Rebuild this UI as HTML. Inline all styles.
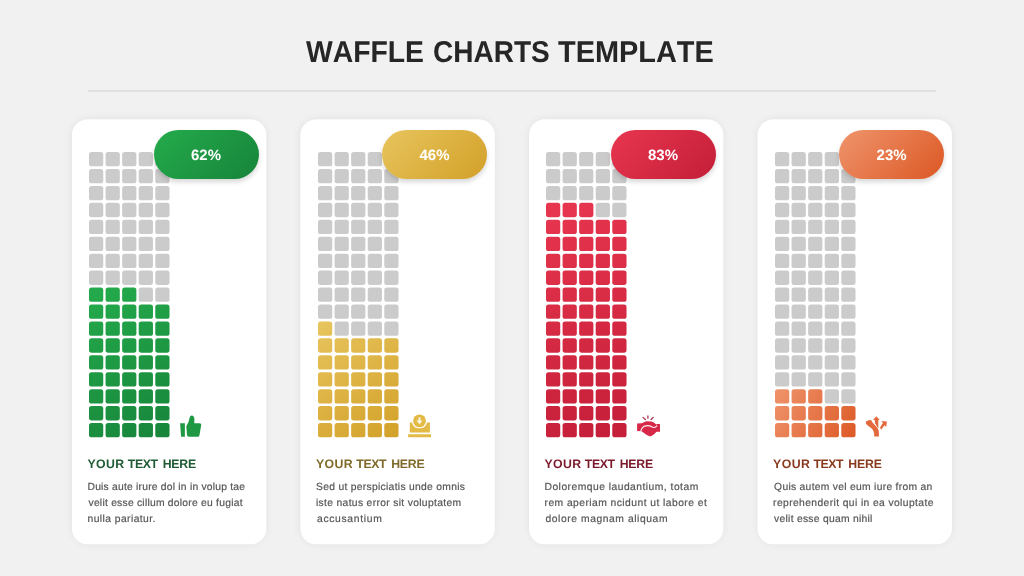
<!DOCTYPE html><html><head><meta charset="utf-8"><title>Waffle Charts Template</title><style>
*{margin:0;padding:0;box-sizing:border-box}
html,body{text-rendering:geometricPrecision;width:1024px;height:576px;overflow:hidden;background:#f1f1f1;font-family:"Liberation Sans",sans-serif}
.tw{position:absolute;top:34.6px;font-kerning:none;text-rendering:geometricPrecision;font-weight:bold;font-size:30px;line-height:36px;color:#262626;white-space:nowrap;transform-origin:0 0}
#stage{position:absolute;left:0;top:0;width:1024px;height:576px;will-change:transform}
.rule{position:absolute;left:87.5px;top:90px;width:848.5px;height:2px;background:#e0e0e0}
.card{position:absolute;top:119.3px;width:194.3px;height:424.5px;border-radius:17px}
.shadow{position:absolute;top:119px;width:194px;height:425px;border-radius:17px;box-shadow:0 0 8px rgba(0,0,0,.07)}
.bg{position:absolute;left:0;top:0;width:1024px;height:576px}
.pill{position:absolute;left:81.5px;top:10.5px;padding-right:.2px;width:105.2px;height:49.1px;border-radius:25px;color:#fff;font-weight:bold;font-size:15px;line-height:52px;text-align:center;box-shadow:0 3px 5px rgba(0,0,0,.16)}
.grid{position:absolute;left:17.0px;top:33.000000000000014px;width:82.85px;height:287.98px}
.hw{position:absolute;top:337.7px;font-weight:bold;font-size:12.3px;line-height:14px;white-space:nowrap}
.ln{position:absolute;font-size:10.3px;line-height:16px;color:#555;-webkit-text-stroke:.18px #555;white-space:nowrap}
.icons{position:absolute;left:0;top:0;width:1024px;height:576px}
</style></head><body><div id="stage">
<div class="tw" style="left:305.70px;transform:scaleX(0.9444)">WAFFLE</div>
<div class="tw" style="left:432.57px;transform:scaleX(0.9333)">CHARTS</div>
<div class="tw" style="left:557.60px;transform:scaleX(0.9634)">TEMPLATE</div>
<div class="rule"></div>
<div class="shadow" style="left:72px"></div>
<div class="shadow" style="left:300px"></div>
<div class="shadow" style="left:529px"></div>
<div class="shadow" style="left:758px"></div>
<svg class="bg" viewBox="0 0 1024 576"><rect x="72.0" y="119.4" width="194.3" height="424.9" rx="15.5" fill="#fff"/><rect x="300.5" y="119.4" width="194.3" height="424.9" rx="15.5" fill="#fff"/><rect x="529.0" y="119.4" width="194.3" height="424.9" rx="15.5" fill="#fff"/><rect x="757.6" y="119.4" width="194.3" height="424.9" rx="15.5" fill="#fff"/></svg>
<div class="card" style="left:72.0px">
<svg class="grid" viewBox="0 0 82.85 287.98"><defs><linearGradient id="gr_g" gradientUnits="userSpaceOnUse" x1="0" y1="135.5" x2="82.8" y2="288.0"><stop offset="0" stop-color="#24ab4c"/><stop offset="1" stop-color="#17843a"/></linearGradient></defs><rect x="0.00" y="0.00" width="14.25" height="14.35" rx="2.6" fill="#cbcbcb"/><rect x="16.57" y="0.00" width="14.25" height="14.35" rx="2.6" fill="#cbcbcb"/><rect x="33.14" y="0.00" width="14.25" height="14.35" rx="2.6" fill="#cbcbcb"/><rect x="49.71" y="0.00" width="14.25" height="14.35" rx="2.6" fill="#cbcbcb"/><rect x="66.28" y="0.00" width="14.25" height="14.35" rx="2.6" fill="#cbcbcb"/><rect x="0.00" y="16.94" width="14.25" height="14.35" rx="2.6" fill="#cbcbcb"/><rect x="16.57" y="16.94" width="14.25" height="14.35" rx="2.6" fill="#cbcbcb"/><rect x="33.14" y="16.94" width="14.25" height="14.35" rx="2.6" fill="#cbcbcb"/><rect x="49.71" y="16.94" width="14.25" height="14.35" rx="2.6" fill="#cbcbcb"/><rect x="66.28" y="16.94" width="14.25" height="14.35" rx="2.6" fill="#cbcbcb"/><rect x="0.00" y="33.88" width="14.25" height="14.35" rx="2.6" fill="#cbcbcb"/><rect x="16.57" y="33.88" width="14.25" height="14.35" rx="2.6" fill="#cbcbcb"/><rect x="33.14" y="33.88" width="14.25" height="14.35" rx="2.6" fill="#cbcbcb"/><rect x="49.71" y="33.88" width="14.25" height="14.35" rx="2.6" fill="#cbcbcb"/><rect x="66.28" y="33.88" width="14.25" height="14.35" rx="2.6" fill="#cbcbcb"/><rect x="0.00" y="50.82" width="14.25" height="14.35" rx="2.6" fill="#cbcbcb"/><rect x="16.57" y="50.82" width="14.25" height="14.35" rx="2.6" fill="#cbcbcb"/><rect x="33.14" y="50.82" width="14.25" height="14.35" rx="2.6" fill="#cbcbcb"/><rect x="49.71" y="50.82" width="14.25" height="14.35" rx="2.6" fill="#cbcbcb"/><rect x="66.28" y="50.82" width="14.25" height="14.35" rx="2.6" fill="#cbcbcb"/><rect x="0.00" y="67.76" width="14.25" height="14.35" rx="2.6" fill="#cbcbcb"/><rect x="16.57" y="67.76" width="14.25" height="14.35" rx="2.6" fill="#cbcbcb"/><rect x="33.14" y="67.76" width="14.25" height="14.35" rx="2.6" fill="#cbcbcb"/><rect x="49.71" y="67.76" width="14.25" height="14.35" rx="2.6" fill="#cbcbcb"/><rect x="66.28" y="67.76" width="14.25" height="14.35" rx="2.6" fill="#cbcbcb"/><rect x="0.00" y="84.70" width="14.25" height="14.35" rx="2.6" fill="#cbcbcb"/><rect x="16.57" y="84.70" width="14.25" height="14.35" rx="2.6" fill="#cbcbcb"/><rect x="33.14" y="84.70" width="14.25" height="14.35" rx="2.6" fill="#cbcbcb"/><rect x="49.71" y="84.70" width="14.25" height="14.35" rx="2.6" fill="#cbcbcb"/><rect x="66.28" y="84.70" width="14.25" height="14.35" rx="2.6" fill="#cbcbcb"/><rect x="0.00" y="101.64" width="14.25" height="14.35" rx="2.6" fill="#cbcbcb"/><rect x="16.57" y="101.64" width="14.25" height="14.35" rx="2.6" fill="#cbcbcb"/><rect x="33.14" y="101.64" width="14.25" height="14.35" rx="2.6" fill="#cbcbcb"/><rect x="49.71" y="101.64" width="14.25" height="14.35" rx="2.6" fill="#cbcbcb"/><rect x="66.28" y="101.64" width="14.25" height="14.35" rx="2.6" fill="#cbcbcb"/><rect x="0.00" y="118.58" width="14.25" height="14.35" rx="2.6" fill="#cbcbcb"/><rect x="16.57" y="118.58" width="14.25" height="14.35" rx="2.6" fill="#cbcbcb"/><rect x="33.14" y="118.58" width="14.25" height="14.35" rx="2.6" fill="#cbcbcb"/><rect x="49.71" y="118.58" width="14.25" height="14.35" rx="2.6" fill="#cbcbcb"/><rect x="66.28" y="118.58" width="14.25" height="14.35" rx="2.6" fill="#cbcbcb"/><rect x="0.00" y="135.52" width="14.25" height="14.35" rx="2.6" fill="url(#gr_g)"/><rect x="16.57" y="135.52" width="14.25" height="14.35" rx="2.6" fill="url(#gr_g)"/><rect x="33.14" y="135.52" width="14.25" height="14.35" rx="2.6" fill="url(#gr_g)"/><rect x="49.71" y="135.52" width="14.25" height="14.35" rx="2.6" fill="#cbcbcb"/><rect x="66.28" y="135.52" width="14.25" height="14.35" rx="2.6" fill="#cbcbcb"/><rect x="0.00" y="152.46" width="14.25" height="14.35" rx="2.6" fill="url(#gr_g)"/><rect x="16.57" y="152.46" width="14.25" height="14.35" rx="2.6" fill="url(#gr_g)"/><rect x="33.14" y="152.46" width="14.25" height="14.35" rx="2.6" fill="url(#gr_g)"/><rect x="49.71" y="152.46" width="14.25" height="14.35" rx="2.6" fill="url(#gr_g)"/><rect x="66.28" y="152.46" width="14.25" height="14.35" rx="2.6" fill="url(#gr_g)"/><rect x="0.00" y="169.40" width="14.25" height="14.35" rx="2.6" fill="url(#gr_g)"/><rect x="16.57" y="169.40" width="14.25" height="14.35" rx="2.6" fill="url(#gr_g)"/><rect x="33.14" y="169.40" width="14.25" height="14.35" rx="2.6" fill="url(#gr_g)"/><rect x="49.71" y="169.40" width="14.25" height="14.35" rx="2.6" fill="url(#gr_g)"/><rect x="66.28" y="169.40" width="14.25" height="14.35" rx="2.6" fill="url(#gr_g)"/><rect x="0.00" y="186.34" width="14.25" height="14.35" rx="2.6" fill="url(#gr_g)"/><rect x="16.57" y="186.34" width="14.25" height="14.35" rx="2.6" fill="url(#gr_g)"/><rect x="33.14" y="186.34" width="14.25" height="14.35" rx="2.6" fill="url(#gr_g)"/><rect x="49.71" y="186.34" width="14.25" height="14.35" rx="2.6" fill="url(#gr_g)"/><rect x="66.28" y="186.34" width="14.25" height="14.35" rx="2.6" fill="url(#gr_g)"/><rect x="0.00" y="203.28" width="14.25" height="14.35" rx="2.6" fill="url(#gr_g)"/><rect x="16.57" y="203.28" width="14.25" height="14.35" rx="2.6" fill="url(#gr_g)"/><rect x="33.14" y="203.28" width="14.25" height="14.35" rx="2.6" fill="url(#gr_g)"/><rect x="49.71" y="203.28" width="14.25" height="14.35" rx="2.6" fill="url(#gr_g)"/><rect x="66.28" y="203.28" width="14.25" height="14.35" rx="2.6" fill="url(#gr_g)"/><rect x="0.00" y="220.22" width="14.25" height="14.35" rx="2.6" fill="url(#gr_g)"/><rect x="16.57" y="220.22" width="14.25" height="14.35" rx="2.6" fill="url(#gr_g)"/><rect x="33.14" y="220.22" width="14.25" height="14.35" rx="2.6" fill="url(#gr_g)"/><rect x="49.71" y="220.22" width="14.25" height="14.35" rx="2.6" fill="url(#gr_g)"/><rect x="66.28" y="220.22" width="14.25" height="14.35" rx="2.6" fill="url(#gr_g)"/><rect x="0.00" y="237.16" width="14.25" height="14.35" rx="2.6" fill="url(#gr_g)"/><rect x="16.57" y="237.16" width="14.25" height="14.35" rx="2.6" fill="url(#gr_g)"/><rect x="33.14" y="237.16" width="14.25" height="14.35" rx="2.6" fill="url(#gr_g)"/><rect x="49.71" y="237.16" width="14.25" height="14.35" rx="2.6" fill="url(#gr_g)"/><rect x="66.28" y="237.16" width="14.25" height="14.35" rx="2.6" fill="url(#gr_g)"/><rect x="0.00" y="254.10" width="14.25" height="14.35" rx="2.6" fill="url(#gr_g)"/><rect x="16.57" y="254.10" width="14.25" height="14.35" rx="2.6" fill="url(#gr_g)"/><rect x="33.14" y="254.10" width="14.25" height="14.35" rx="2.6" fill="url(#gr_g)"/><rect x="49.71" y="254.10" width="14.25" height="14.35" rx="2.6" fill="url(#gr_g)"/><rect x="66.28" y="254.10" width="14.25" height="14.35" rx="2.6" fill="url(#gr_g)"/><rect x="0.00" y="271.04" width="14.25" height="14.35" rx="2.6" fill="url(#gr_g)"/><rect x="16.57" y="271.04" width="14.25" height="14.35" rx="2.6" fill="url(#gr_g)"/><rect x="33.14" y="271.04" width="14.25" height="14.35" rx="2.6" fill="url(#gr_g)"/><rect x="49.71" y="271.04" width="14.25" height="14.35" rx="2.6" fill="url(#gr_g)"/><rect x="66.28" y="271.04" width="14.25" height="14.35" rx="2.6" fill="url(#gr_g)"/></svg>
<div class="pill" style="background:linear-gradient(135deg,#24ab4c,#17843a)">62%</div>
<div class="hw" style="left:15.50px;letter-spacing:0.400px;color:#1f5a33">YOUR</div>
<div class="hw" style="left:55.80px;letter-spacing:-0.433px;color:#1f5a33">TEXT</div>
<div class="hw" style="left:90.70px;letter-spacing:-0.200px;color:#1f5a33">HERE</div>
<div class="ln" style="left:15.50px;top:360.70px;letter-spacing:0.221px">Duis aute irure dol in in volup tae</div>
<div class="ln" style="left:16.50px;top:376.70px;letter-spacing:0.245px">velit esse cillum dolore eu fugiat</div>
<div class="ln" style="left:15.50px;top:392.90px;letter-spacing:0.436px">nulla pariatur.</div>
</div>
<div class="card" style="left:300.5px">
<svg class="grid" viewBox="0 0 82.85 287.98"><defs><linearGradient id="gr_y" gradientUnits="userSpaceOnUse" x1="0" y1="169.4" x2="82.8" y2="288.0"><stop offset="0" stop-color="#e8c55e"/><stop offset="1" stop-color="#d2a028"/></linearGradient></defs><rect x="0.00" y="0.00" width="14.25" height="14.35" rx="2.6" fill="#cbcbcb"/><rect x="16.57" y="0.00" width="14.25" height="14.35" rx="2.6" fill="#cbcbcb"/><rect x="33.14" y="0.00" width="14.25" height="14.35" rx="2.6" fill="#cbcbcb"/><rect x="49.71" y="0.00" width="14.25" height="14.35" rx="2.6" fill="#cbcbcb"/><rect x="66.28" y="0.00" width="14.25" height="14.35" rx="2.6" fill="#cbcbcb"/><rect x="0.00" y="16.94" width="14.25" height="14.35" rx="2.6" fill="#cbcbcb"/><rect x="16.57" y="16.94" width="14.25" height="14.35" rx="2.6" fill="#cbcbcb"/><rect x="33.14" y="16.94" width="14.25" height="14.35" rx="2.6" fill="#cbcbcb"/><rect x="49.71" y="16.94" width="14.25" height="14.35" rx="2.6" fill="#cbcbcb"/><rect x="66.28" y="16.94" width="14.25" height="14.35" rx="2.6" fill="#cbcbcb"/><rect x="0.00" y="33.88" width="14.25" height="14.35" rx="2.6" fill="#cbcbcb"/><rect x="16.57" y="33.88" width="14.25" height="14.35" rx="2.6" fill="#cbcbcb"/><rect x="33.14" y="33.88" width="14.25" height="14.35" rx="2.6" fill="#cbcbcb"/><rect x="49.71" y="33.88" width="14.25" height="14.35" rx="2.6" fill="#cbcbcb"/><rect x="66.28" y="33.88" width="14.25" height="14.35" rx="2.6" fill="#cbcbcb"/><rect x="0.00" y="50.82" width="14.25" height="14.35" rx="2.6" fill="#cbcbcb"/><rect x="16.57" y="50.82" width="14.25" height="14.35" rx="2.6" fill="#cbcbcb"/><rect x="33.14" y="50.82" width="14.25" height="14.35" rx="2.6" fill="#cbcbcb"/><rect x="49.71" y="50.82" width="14.25" height="14.35" rx="2.6" fill="#cbcbcb"/><rect x="66.28" y="50.82" width="14.25" height="14.35" rx="2.6" fill="#cbcbcb"/><rect x="0.00" y="67.76" width="14.25" height="14.35" rx="2.6" fill="#cbcbcb"/><rect x="16.57" y="67.76" width="14.25" height="14.35" rx="2.6" fill="#cbcbcb"/><rect x="33.14" y="67.76" width="14.25" height="14.35" rx="2.6" fill="#cbcbcb"/><rect x="49.71" y="67.76" width="14.25" height="14.35" rx="2.6" fill="#cbcbcb"/><rect x="66.28" y="67.76" width="14.25" height="14.35" rx="2.6" fill="#cbcbcb"/><rect x="0.00" y="84.70" width="14.25" height="14.35" rx="2.6" fill="#cbcbcb"/><rect x="16.57" y="84.70" width="14.25" height="14.35" rx="2.6" fill="#cbcbcb"/><rect x="33.14" y="84.70" width="14.25" height="14.35" rx="2.6" fill="#cbcbcb"/><rect x="49.71" y="84.70" width="14.25" height="14.35" rx="2.6" fill="#cbcbcb"/><rect x="66.28" y="84.70" width="14.25" height="14.35" rx="2.6" fill="#cbcbcb"/><rect x="0.00" y="101.64" width="14.25" height="14.35" rx="2.6" fill="#cbcbcb"/><rect x="16.57" y="101.64" width="14.25" height="14.35" rx="2.6" fill="#cbcbcb"/><rect x="33.14" y="101.64" width="14.25" height="14.35" rx="2.6" fill="#cbcbcb"/><rect x="49.71" y="101.64" width="14.25" height="14.35" rx="2.6" fill="#cbcbcb"/><rect x="66.28" y="101.64" width="14.25" height="14.35" rx="2.6" fill="#cbcbcb"/><rect x="0.00" y="118.58" width="14.25" height="14.35" rx="2.6" fill="#cbcbcb"/><rect x="16.57" y="118.58" width="14.25" height="14.35" rx="2.6" fill="#cbcbcb"/><rect x="33.14" y="118.58" width="14.25" height="14.35" rx="2.6" fill="#cbcbcb"/><rect x="49.71" y="118.58" width="14.25" height="14.35" rx="2.6" fill="#cbcbcb"/><rect x="66.28" y="118.58" width="14.25" height="14.35" rx="2.6" fill="#cbcbcb"/><rect x="0.00" y="135.52" width="14.25" height="14.35" rx="2.6" fill="#cbcbcb"/><rect x="16.57" y="135.52" width="14.25" height="14.35" rx="2.6" fill="#cbcbcb"/><rect x="33.14" y="135.52" width="14.25" height="14.35" rx="2.6" fill="#cbcbcb"/><rect x="49.71" y="135.52" width="14.25" height="14.35" rx="2.6" fill="#cbcbcb"/><rect x="66.28" y="135.52" width="14.25" height="14.35" rx="2.6" fill="#cbcbcb"/><rect x="0.00" y="152.46" width="14.25" height="14.35" rx="2.6" fill="#cbcbcb"/><rect x="16.57" y="152.46" width="14.25" height="14.35" rx="2.6" fill="#cbcbcb"/><rect x="33.14" y="152.46" width="14.25" height="14.35" rx="2.6" fill="#cbcbcb"/><rect x="49.71" y="152.46" width="14.25" height="14.35" rx="2.6" fill="#cbcbcb"/><rect x="66.28" y="152.46" width="14.25" height="14.35" rx="2.6" fill="#cbcbcb"/><rect x="0.00" y="169.40" width="14.25" height="14.35" rx="2.6" fill="url(#gr_y)"/><rect x="16.57" y="169.40" width="14.25" height="14.35" rx="2.6" fill="#cbcbcb"/><rect x="33.14" y="169.40" width="14.25" height="14.35" rx="2.6" fill="#cbcbcb"/><rect x="49.71" y="169.40" width="14.25" height="14.35" rx="2.6" fill="#cbcbcb"/><rect x="66.28" y="169.40" width="14.25" height="14.35" rx="2.6" fill="#cbcbcb"/><rect x="0.00" y="186.34" width="14.25" height="14.35" rx="2.6" fill="url(#gr_y)"/><rect x="16.57" y="186.34" width="14.25" height="14.35" rx="2.6" fill="url(#gr_y)"/><rect x="33.14" y="186.34" width="14.25" height="14.35" rx="2.6" fill="url(#gr_y)"/><rect x="49.71" y="186.34" width="14.25" height="14.35" rx="2.6" fill="url(#gr_y)"/><rect x="66.28" y="186.34" width="14.25" height="14.35" rx="2.6" fill="url(#gr_y)"/><rect x="0.00" y="203.28" width="14.25" height="14.35" rx="2.6" fill="url(#gr_y)"/><rect x="16.57" y="203.28" width="14.25" height="14.35" rx="2.6" fill="url(#gr_y)"/><rect x="33.14" y="203.28" width="14.25" height="14.35" rx="2.6" fill="url(#gr_y)"/><rect x="49.71" y="203.28" width="14.25" height="14.35" rx="2.6" fill="url(#gr_y)"/><rect x="66.28" y="203.28" width="14.25" height="14.35" rx="2.6" fill="url(#gr_y)"/><rect x="0.00" y="220.22" width="14.25" height="14.35" rx="2.6" fill="url(#gr_y)"/><rect x="16.57" y="220.22" width="14.25" height="14.35" rx="2.6" fill="url(#gr_y)"/><rect x="33.14" y="220.22" width="14.25" height="14.35" rx="2.6" fill="url(#gr_y)"/><rect x="49.71" y="220.22" width="14.25" height="14.35" rx="2.6" fill="url(#gr_y)"/><rect x="66.28" y="220.22" width="14.25" height="14.35" rx="2.6" fill="url(#gr_y)"/><rect x="0.00" y="237.16" width="14.25" height="14.35" rx="2.6" fill="url(#gr_y)"/><rect x="16.57" y="237.16" width="14.25" height="14.35" rx="2.6" fill="url(#gr_y)"/><rect x="33.14" y="237.16" width="14.25" height="14.35" rx="2.6" fill="url(#gr_y)"/><rect x="49.71" y="237.16" width="14.25" height="14.35" rx="2.6" fill="url(#gr_y)"/><rect x="66.28" y="237.16" width="14.25" height="14.35" rx="2.6" fill="url(#gr_y)"/><rect x="0.00" y="254.10" width="14.25" height="14.35" rx="2.6" fill="url(#gr_y)"/><rect x="16.57" y="254.10" width="14.25" height="14.35" rx="2.6" fill="url(#gr_y)"/><rect x="33.14" y="254.10" width="14.25" height="14.35" rx="2.6" fill="url(#gr_y)"/><rect x="49.71" y="254.10" width="14.25" height="14.35" rx="2.6" fill="url(#gr_y)"/><rect x="66.28" y="254.10" width="14.25" height="14.35" rx="2.6" fill="url(#gr_y)"/><rect x="0.00" y="271.04" width="14.25" height="14.35" rx="2.6" fill="url(#gr_y)"/><rect x="16.57" y="271.04" width="14.25" height="14.35" rx="2.6" fill="url(#gr_y)"/><rect x="33.14" y="271.04" width="14.25" height="14.35" rx="2.6" fill="url(#gr_y)"/><rect x="49.71" y="271.04" width="14.25" height="14.35" rx="2.6" fill="url(#gr_y)"/><rect x="66.28" y="271.04" width="14.25" height="14.35" rx="2.6" fill="url(#gr_y)"/></svg>
<div class="pill" style="background:linear-gradient(135deg,#e8c55e,#d2a028)">46%</div>
<div class="hw" style="left:15.50px;letter-spacing:0.400px;color:#7f6a2a">YOUR</div>
<div class="hw" style="left:55.80px;letter-spacing:-0.433px;color:#7f6a2a">TEXT</div>
<div class="hw" style="left:90.70px;letter-spacing:-0.200px;color:#7f6a2a">HERE</div>
<div class="ln" style="left:15.50px;top:360.70px;letter-spacing:0.300px">Sed ut perspiciatis unde omnis</div>
<div class="ln" style="left:15.50px;top:376.70px;letter-spacing:0.333px">iste natus error sit voluptatem</div>
<div class="ln" style="left:16.50px;top:392.90px;letter-spacing:0.690px">accusantium</div>
</div>
<div class="card" style="left:529.0px">
<svg class="grid" viewBox="0 0 82.85 287.98"><defs><linearGradient id="gr_r" gradientUnits="userSpaceOnUse" x1="0" y1="50.8" x2="82.8" y2="288.0"><stop offset="0" stop-color="#e8364f"/><stop offset="1" stop-color="#c41e38"/></linearGradient></defs><rect x="0.00" y="0.00" width="14.25" height="14.35" rx="2.6" fill="#cbcbcb"/><rect x="16.57" y="0.00" width="14.25" height="14.35" rx="2.6" fill="#cbcbcb"/><rect x="33.14" y="0.00" width="14.25" height="14.35" rx="2.6" fill="#cbcbcb"/><rect x="49.71" y="0.00" width="14.25" height="14.35" rx="2.6" fill="#cbcbcb"/><rect x="66.28" y="0.00" width="14.25" height="14.35" rx="2.6" fill="#cbcbcb"/><rect x="0.00" y="16.94" width="14.25" height="14.35" rx="2.6" fill="#cbcbcb"/><rect x="16.57" y="16.94" width="14.25" height="14.35" rx="2.6" fill="#cbcbcb"/><rect x="33.14" y="16.94" width="14.25" height="14.35" rx="2.6" fill="#cbcbcb"/><rect x="49.71" y="16.94" width="14.25" height="14.35" rx="2.6" fill="#cbcbcb"/><rect x="66.28" y="16.94" width="14.25" height="14.35" rx="2.6" fill="#cbcbcb"/><rect x="0.00" y="33.88" width="14.25" height="14.35" rx="2.6" fill="#cbcbcb"/><rect x="16.57" y="33.88" width="14.25" height="14.35" rx="2.6" fill="#cbcbcb"/><rect x="33.14" y="33.88" width="14.25" height="14.35" rx="2.6" fill="#cbcbcb"/><rect x="49.71" y="33.88" width="14.25" height="14.35" rx="2.6" fill="#cbcbcb"/><rect x="66.28" y="33.88" width="14.25" height="14.35" rx="2.6" fill="#cbcbcb"/><rect x="0.00" y="50.82" width="14.25" height="14.35" rx="2.6" fill="url(#gr_r)"/><rect x="16.57" y="50.82" width="14.25" height="14.35" rx="2.6" fill="url(#gr_r)"/><rect x="33.14" y="50.82" width="14.25" height="14.35" rx="2.6" fill="url(#gr_r)"/><rect x="49.71" y="50.82" width="14.25" height="14.35" rx="2.6" fill="#cbcbcb"/><rect x="66.28" y="50.82" width="14.25" height="14.35" rx="2.6" fill="#cbcbcb"/><rect x="0.00" y="67.76" width="14.25" height="14.35" rx="2.6" fill="url(#gr_r)"/><rect x="16.57" y="67.76" width="14.25" height="14.35" rx="2.6" fill="url(#gr_r)"/><rect x="33.14" y="67.76" width="14.25" height="14.35" rx="2.6" fill="url(#gr_r)"/><rect x="49.71" y="67.76" width="14.25" height="14.35" rx="2.6" fill="url(#gr_r)"/><rect x="66.28" y="67.76" width="14.25" height="14.35" rx="2.6" fill="url(#gr_r)"/><rect x="0.00" y="84.70" width="14.25" height="14.35" rx="2.6" fill="url(#gr_r)"/><rect x="16.57" y="84.70" width="14.25" height="14.35" rx="2.6" fill="url(#gr_r)"/><rect x="33.14" y="84.70" width="14.25" height="14.35" rx="2.6" fill="url(#gr_r)"/><rect x="49.71" y="84.70" width="14.25" height="14.35" rx="2.6" fill="url(#gr_r)"/><rect x="66.28" y="84.70" width="14.25" height="14.35" rx="2.6" fill="url(#gr_r)"/><rect x="0.00" y="101.64" width="14.25" height="14.35" rx="2.6" fill="url(#gr_r)"/><rect x="16.57" y="101.64" width="14.25" height="14.35" rx="2.6" fill="url(#gr_r)"/><rect x="33.14" y="101.64" width="14.25" height="14.35" rx="2.6" fill="url(#gr_r)"/><rect x="49.71" y="101.64" width="14.25" height="14.35" rx="2.6" fill="url(#gr_r)"/><rect x="66.28" y="101.64" width="14.25" height="14.35" rx="2.6" fill="url(#gr_r)"/><rect x="0.00" y="118.58" width="14.25" height="14.35" rx="2.6" fill="url(#gr_r)"/><rect x="16.57" y="118.58" width="14.25" height="14.35" rx="2.6" fill="url(#gr_r)"/><rect x="33.14" y="118.58" width="14.25" height="14.35" rx="2.6" fill="url(#gr_r)"/><rect x="49.71" y="118.58" width="14.25" height="14.35" rx="2.6" fill="url(#gr_r)"/><rect x="66.28" y="118.58" width="14.25" height="14.35" rx="2.6" fill="url(#gr_r)"/><rect x="0.00" y="135.52" width="14.25" height="14.35" rx="2.6" fill="url(#gr_r)"/><rect x="16.57" y="135.52" width="14.25" height="14.35" rx="2.6" fill="url(#gr_r)"/><rect x="33.14" y="135.52" width="14.25" height="14.35" rx="2.6" fill="url(#gr_r)"/><rect x="49.71" y="135.52" width="14.25" height="14.35" rx="2.6" fill="url(#gr_r)"/><rect x="66.28" y="135.52" width="14.25" height="14.35" rx="2.6" fill="url(#gr_r)"/><rect x="0.00" y="152.46" width="14.25" height="14.35" rx="2.6" fill="url(#gr_r)"/><rect x="16.57" y="152.46" width="14.25" height="14.35" rx="2.6" fill="url(#gr_r)"/><rect x="33.14" y="152.46" width="14.25" height="14.35" rx="2.6" fill="url(#gr_r)"/><rect x="49.71" y="152.46" width="14.25" height="14.35" rx="2.6" fill="url(#gr_r)"/><rect x="66.28" y="152.46" width="14.25" height="14.35" rx="2.6" fill="url(#gr_r)"/><rect x="0.00" y="169.40" width="14.25" height="14.35" rx="2.6" fill="url(#gr_r)"/><rect x="16.57" y="169.40" width="14.25" height="14.35" rx="2.6" fill="url(#gr_r)"/><rect x="33.14" y="169.40" width="14.25" height="14.35" rx="2.6" fill="url(#gr_r)"/><rect x="49.71" y="169.40" width="14.25" height="14.35" rx="2.6" fill="url(#gr_r)"/><rect x="66.28" y="169.40" width="14.25" height="14.35" rx="2.6" fill="url(#gr_r)"/><rect x="0.00" y="186.34" width="14.25" height="14.35" rx="2.6" fill="url(#gr_r)"/><rect x="16.57" y="186.34" width="14.25" height="14.35" rx="2.6" fill="url(#gr_r)"/><rect x="33.14" y="186.34" width="14.25" height="14.35" rx="2.6" fill="url(#gr_r)"/><rect x="49.71" y="186.34" width="14.25" height="14.35" rx="2.6" fill="url(#gr_r)"/><rect x="66.28" y="186.34" width="14.25" height="14.35" rx="2.6" fill="url(#gr_r)"/><rect x="0.00" y="203.28" width="14.25" height="14.35" rx="2.6" fill="url(#gr_r)"/><rect x="16.57" y="203.28" width="14.25" height="14.35" rx="2.6" fill="url(#gr_r)"/><rect x="33.14" y="203.28" width="14.25" height="14.35" rx="2.6" fill="url(#gr_r)"/><rect x="49.71" y="203.28" width="14.25" height="14.35" rx="2.6" fill="url(#gr_r)"/><rect x="66.28" y="203.28" width="14.25" height="14.35" rx="2.6" fill="url(#gr_r)"/><rect x="0.00" y="220.22" width="14.25" height="14.35" rx="2.6" fill="url(#gr_r)"/><rect x="16.57" y="220.22" width="14.25" height="14.35" rx="2.6" fill="url(#gr_r)"/><rect x="33.14" y="220.22" width="14.25" height="14.35" rx="2.6" fill="url(#gr_r)"/><rect x="49.71" y="220.22" width="14.25" height="14.35" rx="2.6" fill="url(#gr_r)"/><rect x="66.28" y="220.22" width="14.25" height="14.35" rx="2.6" fill="url(#gr_r)"/><rect x="0.00" y="237.16" width="14.25" height="14.35" rx="2.6" fill="url(#gr_r)"/><rect x="16.57" y="237.16" width="14.25" height="14.35" rx="2.6" fill="url(#gr_r)"/><rect x="33.14" y="237.16" width="14.25" height="14.35" rx="2.6" fill="url(#gr_r)"/><rect x="49.71" y="237.16" width="14.25" height="14.35" rx="2.6" fill="url(#gr_r)"/><rect x="66.28" y="237.16" width="14.25" height="14.35" rx="2.6" fill="url(#gr_r)"/><rect x="0.00" y="254.10" width="14.25" height="14.35" rx="2.6" fill="url(#gr_r)"/><rect x="16.57" y="254.10" width="14.25" height="14.35" rx="2.6" fill="url(#gr_r)"/><rect x="33.14" y="254.10" width="14.25" height="14.35" rx="2.6" fill="url(#gr_r)"/><rect x="49.71" y="254.10" width="14.25" height="14.35" rx="2.6" fill="url(#gr_r)"/><rect x="66.28" y="254.10" width="14.25" height="14.35" rx="2.6" fill="url(#gr_r)"/><rect x="0.00" y="271.04" width="14.25" height="14.35" rx="2.6" fill="url(#gr_r)"/><rect x="16.57" y="271.04" width="14.25" height="14.35" rx="2.6" fill="url(#gr_r)"/><rect x="33.14" y="271.04" width="14.25" height="14.35" rx="2.6" fill="url(#gr_r)"/><rect x="49.71" y="271.04" width="14.25" height="14.35" rx="2.6" fill="url(#gr_r)"/><rect x="66.28" y="271.04" width="14.25" height="14.35" rx="2.6" fill="url(#gr_r)"/></svg>
<div class="pill" style="background:linear-gradient(135deg,#e8364f,#c41e38)">83%</div>
<div class="hw" style="left:15.50px;letter-spacing:0.400px;color:#7a1a2c">YOUR</div>
<div class="hw" style="left:55.80px;letter-spacing:-0.433px;color:#7a1a2c">TEXT</div>
<div class="hw" style="left:90.70px;letter-spacing:-0.200px;color:#7a1a2c">HERE</div>
<div class="ln" style="left:15.50px;top:360.70px;letter-spacing:0.478px">Doloremque laudantium, totam</div>
<div class="ln" style="left:15.50px;top:376.70px;letter-spacing:0.452px">rem aperiam ncidunt ut labore et</div>
<div class="ln" style="left:16.50px;top:392.90px;letter-spacing:0.575px">dolore magnam aliquam</div>
</div>
<div class="card" style="left:757.6px">
<svg class="grid" viewBox="0 0 82.85 287.98"><defs><linearGradient id="gr_o" gradientUnits="userSpaceOnUse" x1="0" y1="237.2" x2="82.8" y2="288.0"><stop offset="0" stop-color="#ef946c"/><stop offset="1" stop-color="#dc5824"/></linearGradient></defs><rect x="0.00" y="0.00" width="14.25" height="14.35" rx="2.6" fill="#cbcbcb"/><rect x="16.57" y="0.00" width="14.25" height="14.35" rx="2.6" fill="#cbcbcb"/><rect x="33.14" y="0.00" width="14.25" height="14.35" rx="2.6" fill="#cbcbcb"/><rect x="49.71" y="0.00" width="14.25" height="14.35" rx="2.6" fill="#cbcbcb"/><rect x="66.28" y="0.00" width="14.25" height="14.35" rx="2.6" fill="#cbcbcb"/><rect x="0.00" y="16.94" width="14.25" height="14.35" rx="2.6" fill="#cbcbcb"/><rect x="16.57" y="16.94" width="14.25" height="14.35" rx="2.6" fill="#cbcbcb"/><rect x="33.14" y="16.94" width="14.25" height="14.35" rx="2.6" fill="#cbcbcb"/><rect x="49.71" y="16.94" width="14.25" height="14.35" rx="2.6" fill="#cbcbcb"/><rect x="66.28" y="16.94" width="14.25" height="14.35" rx="2.6" fill="#cbcbcb"/><rect x="0.00" y="33.88" width="14.25" height="14.35" rx="2.6" fill="#cbcbcb"/><rect x="16.57" y="33.88" width="14.25" height="14.35" rx="2.6" fill="#cbcbcb"/><rect x="33.14" y="33.88" width="14.25" height="14.35" rx="2.6" fill="#cbcbcb"/><rect x="49.71" y="33.88" width="14.25" height="14.35" rx="2.6" fill="#cbcbcb"/><rect x="66.28" y="33.88" width="14.25" height="14.35" rx="2.6" fill="#cbcbcb"/><rect x="0.00" y="50.82" width="14.25" height="14.35" rx="2.6" fill="#cbcbcb"/><rect x="16.57" y="50.82" width="14.25" height="14.35" rx="2.6" fill="#cbcbcb"/><rect x="33.14" y="50.82" width="14.25" height="14.35" rx="2.6" fill="#cbcbcb"/><rect x="49.71" y="50.82" width="14.25" height="14.35" rx="2.6" fill="#cbcbcb"/><rect x="66.28" y="50.82" width="14.25" height="14.35" rx="2.6" fill="#cbcbcb"/><rect x="0.00" y="67.76" width="14.25" height="14.35" rx="2.6" fill="#cbcbcb"/><rect x="16.57" y="67.76" width="14.25" height="14.35" rx="2.6" fill="#cbcbcb"/><rect x="33.14" y="67.76" width="14.25" height="14.35" rx="2.6" fill="#cbcbcb"/><rect x="49.71" y="67.76" width="14.25" height="14.35" rx="2.6" fill="#cbcbcb"/><rect x="66.28" y="67.76" width="14.25" height="14.35" rx="2.6" fill="#cbcbcb"/><rect x="0.00" y="84.70" width="14.25" height="14.35" rx="2.6" fill="#cbcbcb"/><rect x="16.57" y="84.70" width="14.25" height="14.35" rx="2.6" fill="#cbcbcb"/><rect x="33.14" y="84.70" width="14.25" height="14.35" rx="2.6" fill="#cbcbcb"/><rect x="49.71" y="84.70" width="14.25" height="14.35" rx="2.6" fill="#cbcbcb"/><rect x="66.28" y="84.70" width="14.25" height="14.35" rx="2.6" fill="#cbcbcb"/><rect x="0.00" y="101.64" width="14.25" height="14.35" rx="2.6" fill="#cbcbcb"/><rect x="16.57" y="101.64" width="14.25" height="14.35" rx="2.6" fill="#cbcbcb"/><rect x="33.14" y="101.64" width="14.25" height="14.35" rx="2.6" fill="#cbcbcb"/><rect x="49.71" y="101.64" width="14.25" height="14.35" rx="2.6" fill="#cbcbcb"/><rect x="66.28" y="101.64" width="14.25" height="14.35" rx="2.6" fill="#cbcbcb"/><rect x="0.00" y="118.58" width="14.25" height="14.35" rx="2.6" fill="#cbcbcb"/><rect x="16.57" y="118.58" width="14.25" height="14.35" rx="2.6" fill="#cbcbcb"/><rect x="33.14" y="118.58" width="14.25" height="14.35" rx="2.6" fill="#cbcbcb"/><rect x="49.71" y="118.58" width="14.25" height="14.35" rx="2.6" fill="#cbcbcb"/><rect x="66.28" y="118.58" width="14.25" height="14.35" rx="2.6" fill="#cbcbcb"/><rect x="0.00" y="135.52" width="14.25" height="14.35" rx="2.6" fill="#cbcbcb"/><rect x="16.57" y="135.52" width="14.25" height="14.35" rx="2.6" fill="#cbcbcb"/><rect x="33.14" y="135.52" width="14.25" height="14.35" rx="2.6" fill="#cbcbcb"/><rect x="49.71" y="135.52" width="14.25" height="14.35" rx="2.6" fill="#cbcbcb"/><rect x="66.28" y="135.52" width="14.25" height="14.35" rx="2.6" fill="#cbcbcb"/><rect x="0.00" y="152.46" width="14.25" height="14.35" rx="2.6" fill="#cbcbcb"/><rect x="16.57" y="152.46" width="14.25" height="14.35" rx="2.6" fill="#cbcbcb"/><rect x="33.14" y="152.46" width="14.25" height="14.35" rx="2.6" fill="#cbcbcb"/><rect x="49.71" y="152.46" width="14.25" height="14.35" rx="2.6" fill="#cbcbcb"/><rect x="66.28" y="152.46" width="14.25" height="14.35" rx="2.6" fill="#cbcbcb"/><rect x="0.00" y="169.40" width="14.25" height="14.35" rx="2.6" fill="#cbcbcb"/><rect x="16.57" y="169.40" width="14.25" height="14.35" rx="2.6" fill="#cbcbcb"/><rect x="33.14" y="169.40" width="14.25" height="14.35" rx="2.6" fill="#cbcbcb"/><rect x="49.71" y="169.40" width="14.25" height="14.35" rx="2.6" fill="#cbcbcb"/><rect x="66.28" y="169.40" width="14.25" height="14.35" rx="2.6" fill="#cbcbcb"/><rect x="0.00" y="186.34" width="14.25" height="14.35" rx="2.6" fill="#cbcbcb"/><rect x="16.57" y="186.34" width="14.25" height="14.35" rx="2.6" fill="#cbcbcb"/><rect x="33.14" y="186.34" width="14.25" height="14.35" rx="2.6" fill="#cbcbcb"/><rect x="49.71" y="186.34" width="14.25" height="14.35" rx="2.6" fill="#cbcbcb"/><rect x="66.28" y="186.34" width="14.25" height="14.35" rx="2.6" fill="#cbcbcb"/><rect x="0.00" y="203.28" width="14.25" height="14.35" rx="2.6" fill="#cbcbcb"/><rect x="16.57" y="203.28" width="14.25" height="14.35" rx="2.6" fill="#cbcbcb"/><rect x="33.14" y="203.28" width="14.25" height="14.35" rx="2.6" fill="#cbcbcb"/><rect x="49.71" y="203.28" width="14.25" height="14.35" rx="2.6" fill="#cbcbcb"/><rect x="66.28" y="203.28" width="14.25" height="14.35" rx="2.6" fill="#cbcbcb"/><rect x="0.00" y="220.22" width="14.25" height="14.35" rx="2.6" fill="#cbcbcb"/><rect x="16.57" y="220.22" width="14.25" height="14.35" rx="2.6" fill="#cbcbcb"/><rect x="33.14" y="220.22" width="14.25" height="14.35" rx="2.6" fill="#cbcbcb"/><rect x="49.71" y="220.22" width="14.25" height="14.35" rx="2.6" fill="#cbcbcb"/><rect x="66.28" y="220.22" width="14.25" height="14.35" rx="2.6" fill="#cbcbcb"/><rect x="0.00" y="237.16" width="14.25" height="14.35" rx="2.6" fill="url(#gr_o)"/><rect x="16.57" y="237.16" width="14.25" height="14.35" rx="2.6" fill="url(#gr_o)"/><rect x="33.14" y="237.16" width="14.25" height="14.35" rx="2.6" fill="url(#gr_o)"/><rect x="49.71" y="237.16" width="14.25" height="14.35" rx="2.6" fill="#cbcbcb"/><rect x="66.28" y="237.16" width="14.25" height="14.35" rx="2.6" fill="#cbcbcb"/><rect x="0.00" y="254.10" width="14.25" height="14.35" rx="2.6" fill="url(#gr_o)"/><rect x="16.57" y="254.10" width="14.25" height="14.35" rx="2.6" fill="url(#gr_o)"/><rect x="33.14" y="254.10" width="14.25" height="14.35" rx="2.6" fill="url(#gr_o)"/><rect x="49.71" y="254.10" width="14.25" height="14.35" rx="2.6" fill="url(#gr_o)"/><rect x="66.28" y="254.10" width="14.25" height="14.35" rx="2.6" fill="url(#gr_o)"/><rect x="0.00" y="271.04" width="14.25" height="14.35" rx="2.6" fill="url(#gr_o)"/><rect x="16.57" y="271.04" width="14.25" height="14.35" rx="2.6" fill="url(#gr_o)"/><rect x="33.14" y="271.04" width="14.25" height="14.35" rx="2.6" fill="url(#gr_o)"/><rect x="49.71" y="271.04" width="14.25" height="14.35" rx="2.6" fill="url(#gr_o)"/><rect x="66.28" y="271.04" width="14.25" height="14.35" rx="2.6" fill="url(#gr_o)"/></svg>
<div class="pill" style="background:linear-gradient(135deg,#ef946c,#dc5824)">23%</div>
<div class="hw" style="left:15.50px;letter-spacing:0.400px;color:#8a3a1c">YOUR</div>
<div class="hw" style="left:55.80px;letter-spacing:-0.433px;color:#8a3a1c">TEXT</div>
<div class="hw" style="left:90.70px;letter-spacing:-0.200px;color:#8a3a1c">HERE</div>
<div class="ln" style="left:16.50px;top:360.70px;letter-spacing:0.293px">Quis autem vel eum iure from an</div>
<div class="ln" style="left:15.50px;top:376.70px;letter-spacing:0.394px">reprehenderit qui in ea voluptate</div>
<div class="ln" style="left:16.50px;top:392.90px;letter-spacing:0.275px">velit esse quam nihil</div>
</div>
<svg class="icons" viewBox="0 0 1024 576">
<!-- thumbs up -->
<g fill="#1f9844">
<path d="M180.1 423.2H184.9V436.8H181.1Z"/>
<path d="M186.3 426.2C187.2 424.6 188.4 422.6 188.9 420.8C189.4 418.4 189.9 415.4 191.6 415.4C193.6 415.4 194.5 417.2 194.4 419.2L194.3 423.2H199.6C200.8 423.2 201.4 424 201.2 425.2L199.4 435.4C199.2 436.3 198.6 436.8 197.7 436.8H189.6C188.2 436.8 187.2 436 187 435Z"/>
</g>
<!-- tray download -->
<g fill="#e2ba45">
<path d="M409.8 422.4H412A7.7 7.7 0 0 0 427 422.4H429.9V432.4H409.8Z"/>
<circle cx="419.5" cy="420.9" r="6.4"/>
<rect x="408.1" y="434.2" width="22.9" height="3.1" rx=".4"/>
<path d="M418.5 417.6H420.5V420.6H422.6L419.5 424.3L416.4 420.6H418.5Z" fill="#fff" fill-opacity=".85"/>
</g>
<!-- handshake -->
<g fill="#d8284a">
<path d="M637.1 423.4L641.6 423.2L644 422.2C645 421.6 646 421.3 647 421.2L651.2 421.4C652.2 421.6 653 422 653.8 422.6L656.6 424.8V424.1H660V431.7H656.6L653.8 434.5L651.4 436C650.7 436.4 649.9 436.4 649.2 436L646.8 434.9L641.6 431.2L637.1 431Z"/>
<path d="M640.9 430.9C641.3 429.6 641.8 428.6 642.5 427.7C643.1 426.9 643.6 426.4 644.6 426.1C646.2 425.6 648 425.5 649.6 425.9C651.2 426.3 652.4 427.4 653.8 427.5C655 427.6 655.8 426.8 656.8 425.8" fill="none" stroke="#fff" stroke-width="1.2" stroke-linecap="round" stroke-opacity=".92"/>
<g stroke="#ae2c4c" stroke-width="1.25" stroke-linecap="round"><path d="M647.9 415.9V418.2M643 417.4L645.3 419.5M653.2 417.4L651.1 419.5"/></g>
</g>
<!-- split arrows -->
<g fill="#e36a3c" stroke="none">
<path d="M874.15 436.4V433.4C873.8 431.6 872.9 430 871.7 428.6L867.8 425.6L866.1 423.9L865.9 421.6L869.3 420L871.3 420.3L872.5 422.4L876.6 427.1C877.8 428.4 878.6 429.8 878.8 431.4L879 436.4Z"/>
<path d="M876.35 416.3L879.7 419.9H878.3V428.6L875.1 423.4L874.8 419.9H873Z"/>
<path d="M881.4 421L886.9 421.4L886.2 426.9L884.6 425.3L881.1 429.8L880 427.6L882.9 423Z"/>
</g>
</svg>

</div></body></html>
